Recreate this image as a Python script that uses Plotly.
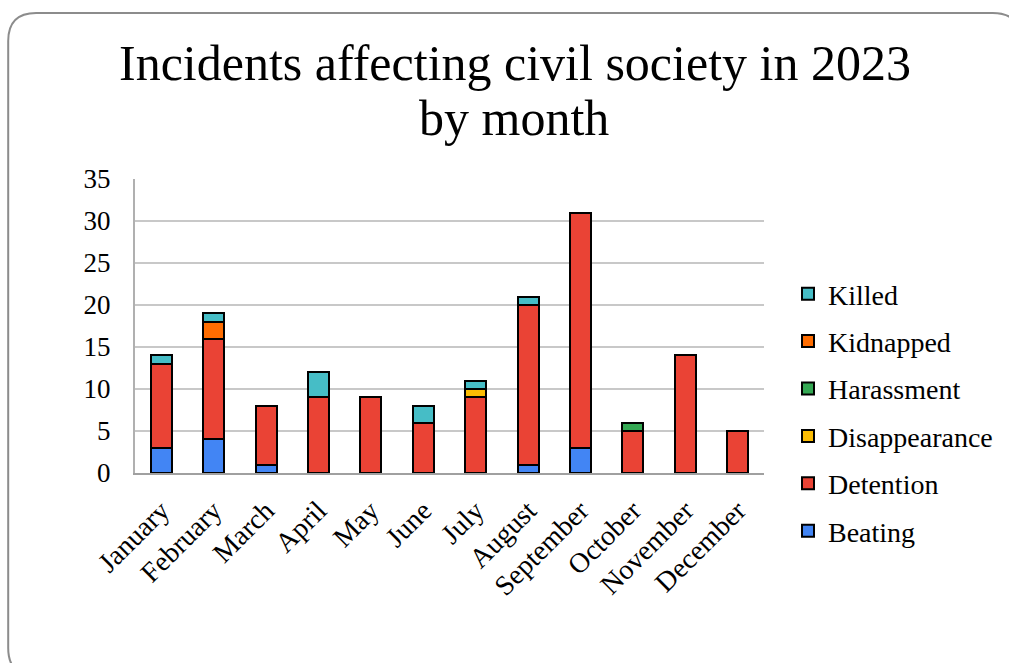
import plotly.graph_objects as go

months = ["January", "February", "March", "April", "May", "June", "July",
          "August", "September", "October", "November", "December"]
beating = [3, 4, 1, 0, 0, 0, 0, 1, 3, 0, 0, 0]
detention = [10, 12, 7, 9, 9, 6, 9, 19, 28, 5, 14, 5]
disappearance = [0, 0, 0, 0, 0, 0, 1, 0, 0, 0, 0, 0]
harassment = [0, 0, 0, 0, 0, 0, 0, 0, 0, 1, 0, 0]
kidnapped = [0, 2, 0, 0, 0, 0, 0, 0, 0, 0, 0, 0]
killed = [1, 1, 0, 3, 0, 2, 1, 1, 0, 0, 0, 0]

series = [
    ("Beating", beating, "#4285f4"),
    ("Detention", detention, "#ea4335"),
    ("Disappearance", disappearance, "#fbbc04"),
    ("Harassment", harassment, "#34a853"),
    ("Kidnapped", kidnapped, "#ff6d01"),
    ("Killed", killed, "#46bdc6"),
]

title_lines = ["Incidents affecting civil society in 2023", "by month"]

FONT = "Liberation Serif, serif"

fig = go.Figure()
n = len(series)
for i, (name, vals, color) in enumerate(series):
    fig.add_trace(go.Bar(
        x=months, y=[v if v else None for v in vals], name=name, legendgroup=name,
        legendrank=n - i,
        marker=dict(color=color, line=dict(color="black", width=2)),
    ))

W, H = 1009, 663
L, R, T, B = 135, 765, 179, 473


def px(x):
    return (x - L) / (R - L)


def py(y):
    return (B - y) / (B - T)


# rounded frame
x0, y0, x1, y1, r = 8, 13, 1022, 676, 28
pts = [
    f"M{px(x0 + r)},{py(y0)}",
    f"L{px(x1 - r)},{py(y0)}",
    f"Q{px(x1)},{py(y0)} {px(x1)},{py(y0 + r)}",
    f"L{px(x1)},{py(y1 - r)}",
    f"Q{px(x1)},{py(y1)} {px(x1 - r)},{py(y1)}",
    f"L{px(x0 + r)},{py(y1)}",
    f"Q{px(x0)},{py(y1)} {px(x0)},{py(y1 - r)}",
    f"L{px(x0)},{py(y0 + r)}",
    f"Q{px(x0)},{py(y0)} {px(x0 + r)},{py(y0)}",
    "Z",
]

annotations = [
    dict(text=title_lines[0], x=px(516), y=py(63), xref="paper", yref="paper",
         xanchor="center", yanchor="middle", showarrow=False,
         font=dict(family=FONT, size=50, color="black")),
    dict(text=title_lines[1], x=px(515), y=py(118), xref="paper", yref="paper",
         xanchor="center", yanchor="middle", showarrow=False,
         font=dict(family=FONT, size=50, color="black")),
]

fig.update_layout(
    width=W, height=H,
    margin=dict(l=L, r=W - R, t=T, b=H - B, pad=0),
    paper_bgcolor="white", plot_bgcolor="white",
    barmode="stack", bargap=0.6,
    font=dict(family=FONT, color="black", size=27),
    annotations=annotations,
    legend=dict(traceorder="grouped", tracegroupgap=8, maxheight=600,
                x=px(788), xanchor="left", y=py(269), yanchor="top",
                font=dict(family=FONT, size=28, color="black"),
                bgcolor="rgba(0,0,0,0)"),
    shapes=[dict(type="path", xref="paper", yref="paper", path=" ".join(pts),
                 line=dict(color="#8c8c8c", width=2), layer="below")],
    showlegend=True,
)
fig.update_yaxes(range=[0, 35], dtick=5, showgrid=True, gridcolor="#c8c8c8",
                 gridwidth=2, showline=True, linecolor="#b0b0b0", linewidth=2,
                 zeroline=False, ticks="", ticklabelstandoff=17,
                 tickfont=dict(family=FONT, size=27))
fig.update_xaxes(showline=True, linecolor="#a0a0a0", linewidth=2, tickangle=-45,
                 ticks="", ticklabelstandoff=8, tickfont=dict(family=FONT, size=28))

fig.write_html("out.html")
